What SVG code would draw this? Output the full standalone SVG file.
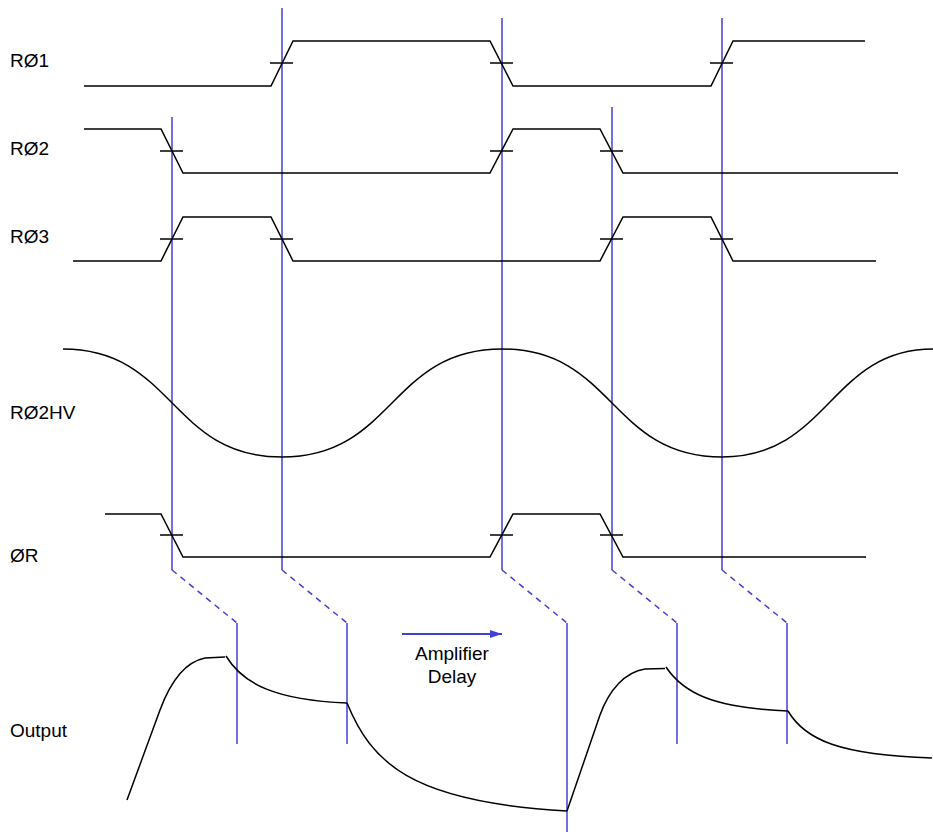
<svg xmlns="http://www.w3.org/2000/svg" width="933" height="832" viewBox="0 0 933 832">
<defs>
<style>
.sig{fill:none;stroke:#000;stroke-width:1.5;stroke-linejoin:miter}
.tick{fill:none;stroke:#000;stroke-width:1.5}
.ref{fill:none;stroke:#4040d8;stroke-width:1.5}
.dash{fill:none;stroke:#4040d8;stroke-width:1.5;stroke-dasharray:6,5}
.lbl{font-family:"Liberation Sans",Arial,sans-serif;font-size:19px;fill:#000}
</style>
<marker id="ah" markerWidth="12" markerHeight="8" refX="12" refY="4" orient="auto" markerUnits="userSpaceOnUse">
<path d="M0,0 L12,4 L0,8 Z" fill="#4040d8"/>
</marker>
</defs>
<rect width="933" height="832" fill="#fff"/>

<g id="labels">
<text class="lbl" x="10" y="67">RØ1</text>
<text class="lbl" x="10" y="155">RØ2</text>
<text class="lbl" x="10" y="243">RØ3</text>
<text class="lbl" x="10" y="419">RØ2HV</text>
<text class="lbl" x="10" y="562">ØR</text>
<text class="lbl" x="10" y="737">Output</text>
</g>

<g id="connectors">
<polyline class="ref" points="172,117 172,570"/>
<polyline class="ref" points="282,8 282,570"/>
<polyline class="ref" points="502,18 502,570"/>
<polyline class="ref" points="612,107 612,570"/>
<polyline class="ref" points="722,18 722,570"/>
<line class="dash" x1="172" y1="570" x2="237" y2="623"/>
<line class="dash" x1="282" y1="570" x2="347" y2="623"/>
<line class="dash" x1="502" y1="570" x2="567" y2="623"/>
<line class="dash" x1="612" y1="570" x2="677" y2="623"/>
<line class="dash" x1="722" y1="570" x2="787" y2="623"/>
<line class="ref" x1="237" y1="623" x2="237" y2="744"/>
<line class="ref" x1="347" y1="623" x2="347" y2="744"/>
<line class="ref" x1="567" y1="623" x2="567" y2="832"/>
<line class="ref" x1="677" y1="623" x2="677" y2="744"/>
<line class="ref" x1="787" y1="623" x2="787" y2="744"/>
</g>

<g id="sig-r1">
<polyline class="sig" points="84,86 271,86 293,41 490,41 513,86 711,86 733,41 865,41"/>
<line class="tick" x1="270" y1="63" x2="293" y2="63"/>
<line class="tick" x1="490" y1="63" x2="513" y2="63"/>
<line class="tick" x1="710" y1="63" x2="733" y2="63"/>
</g>

<g id="sig-r2">
<polyline class="sig" points="84,129 161,129 183,173 490,173 513,129 600,129 623,173 898,173"/>
<line class="tick" x1="160" y1="151" x2="183" y2="151"/>
<line class="tick" x1="490" y1="151" x2="513" y2="151"/>
<line class="tick" x1="600" y1="151" x2="623" y2="151"/>
</g>

<g id="sig-r3">
<polyline class="sig" points="73,261 161,261 183,217 271,217 293,261 600,261 623,217 711,217 733,261 876,261"/>
<line class="tick" x1="160" y1="239" x2="183" y2="239"/>
<line class="tick" x1="270" y1="239" x2="293" y2="239"/>
<line class="tick" x1="600" y1="239" x2="623" y2="239"/>
<line class="tick" x1="710" y1="239" x2="733" y2="239"/>
</g>

<g id="sig-r2hv">
<path class="sig" d="M63,349 C174,349 170,457 282,457 C394,457 390,349 502,349 C614,349 610,457 722,457 C829,457 830,349 933,349"/>
</g>

<g id="sig-or">
<polyline class="sig" points="105,514 161,514 183,557 490,557 513,514 600,514 623,557 866,557"/>
<line class="tick" x1="160" y1="535" x2="183" y2="535"/>
<line class="tick" x1="490" y1="535" x2="513" y2="535"/>
<line class="tick" x1="600" y1="535" x2="623" y2="535"/>
</g>

<g id="sig-output">
<path class="sig" d="M127,800 L160,710 C170,683 185,662 205,658 L225,657"/>
<path class="sig" d="M226,656 C243,684 275,700 347,703"/>
<path class="sig" d="M347,703 C371,761 408,802 567,811"/>
<path class="sig" d="M567,811 L600,715 C609,690 625,672 645,669 L665,668.5"/>
<path class="sig" d="M666,667 C684,694 715,708 788,711"/>
<path class="sig" d="M788,711 C805,740 840,755 932,758"/>
</g>

<g id="amp-delay">
<line x1="402" y1="634" x2="502" y2="634" stroke="#4040d8" stroke-width="2" marker-end="url(#ah)"/>
<text class="lbl" x="452" y="660" text-anchor="middle">Amplifier</text>
<text class="lbl" x="452" y="683" text-anchor="middle">Delay</text>
</g>
</svg>
